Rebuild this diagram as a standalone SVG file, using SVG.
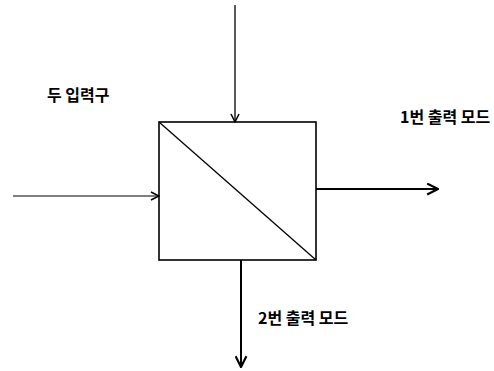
<svg xmlns="http://www.w3.org/2000/svg" width="494" height="371" viewBox="0 0 494 371">
<style>
.ln{stroke:#000;fill:none;stroke-linecap:butt}
.t{font-family:"Noto Sans CJK KR","Noto Sans",sans-serif;font-size:16px;font-weight:bold;fill:#000}
</style>
<defs>
<marker id="ah" viewBox="0 0 10 10" refX="9" refY="5" markerWidth="10" markerHeight="10" markerUnits="userSpaceOnUse" orient="auto">
<path d="M1,1 L9,5 L1,9" fill="none" stroke="#000" stroke-width="1.5"/>
</marker>
<marker id="ah2" viewBox="0 0 12 12" refX="11" refY="6" markerWidth="13" markerHeight="13" markerUnits="userSpaceOnUse" orient="auto">
<path d="M1,1 L11,6 L1,11" fill="none" stroke="#000" stroke-width="2"/>
</marker>
</defs>
<rect width="494" height="371" fill="#fff"/>
<g id="node-splitter">
<rect x="159" y="122" width="157" height="138" class="ln" stroke-width="1.6"/>
<line x1="159" y1="122" x2="316" y2="260" class="ln" stroke-width="1.3"/>
</g>
<g id="label-inputs"><text x="47" y="101" class="t">두 입력구</text></g>
<g id="label-out1"><text x="400" y="123" class="t">1번 출력 모드</text></g>
<g id="label-out2"><text x="258" y="324" class="t">2번 출력 모드</text></g>
<g id="connectors">
<line x1="235" y1="5" x2="235" y2="122" class="ln" stroke-width="1.3" marker-end="url(#ah)"/>
<line x1="13" y1="196" x2="159" y2="196" class="ln" stroke-width="1" marker-end="url(#ah)"/>
<line x1="316" y1="189" x2="438" y2="189" class="ln" stroke-width="2" marker-end="url(#ah2)"/>
<line x1="241" y1="260" x2="241" y2="367" class="ln" stroke-width="2" marker-end="url(#ah2)"/>
</g>
</svg>
